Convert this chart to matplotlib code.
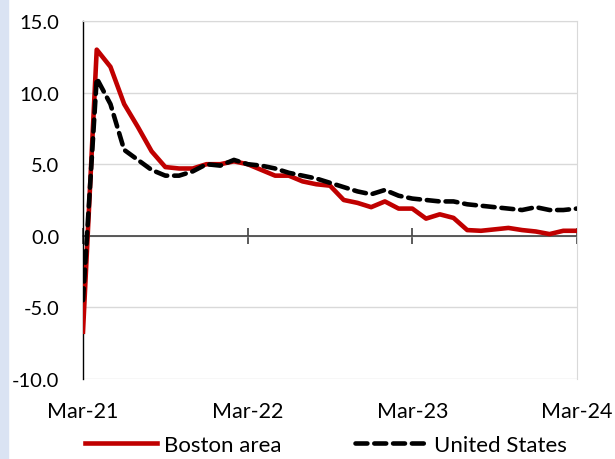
import matplotlib.pyplot as plt
import matplotlib.transforms as mtransforms
from matplotlib.patches import Rectangle
import numpy as np

plt.rcParams['font.family'] = ['Lato', 'DejaVu Sans']

# monthly values, Mar-21 .. Mar-24
boston = [-6.7, 13.0, 11.8, 9.2, 7.6, 5.9, 4.8, 4.7, 4.7, 5.0, 5.0, 5.2,
          5.0, 4.6, 4.2, 4.2, 3.8, 3.6, 3.5, 2.5, 2.3, 2.0, 2.4, 1.9,
          1.9, 1.2, 1.5, 1.25, 0.4, 0.35, 0.45, 0.55, 0.4, 0.3, 0.12, 0.35, 0.35]
us = [-4.5, 11.0, 9.2, 6.0, 5.3, 4.6, 4.2, 4.2, 4.5, 5.0, 4.9, 5.3,
      5.0, 4.9, 4.7, 4.4, 4.2, 4.0, 3.7, 3.4, 3.1, 2.9, 3.2, 2.8,
      2.6, 2.5, 2.4, 2.4, 2.2, 2.1, 2.0, 1.9, 1.8, 2.0, 1.8, 1.8, 1.9]
tick_pos = [0, 12, 24, 36]
tick_labels = ['Mar-21', 'Mar-22', 'Mar-23', 'Mar-24']

months = np.arange(len(boston))

fig = plt.figure(figsize=(6.15, 4.6), dpi=100)
fig.patches.append(Rectangle((0, 0), 8 / 615, 1, transform=fig.transFigure,
                             color='#dae3f3', zorder=0))
ax = fig.add_axes([83 / 615, 1 - 380 / 460, 494 / 615, 358 / 460])

ax.plot(months, boston, color='#c00000', lw=3.3, label='Boston area',
        solid_joinstyle='round', zorder=3)
ax.plot(months, us, color='black', lw=3.3, dashes=(2.6, 1.5),
        dash_capstyle='round', label='United States', zorder=4)

ax.set_xlim(0, 36)
ax.set_ylim(-10, 15)
ax.set_yticks([-10, -5, 0, 5, 10, 15])
ax.set_yticklabels([f'{v:.1f}' for v in [-10, -5, 0, 5, 10, 15]])
ax.tick_params(axis='y', length=0, pad=17, labelsize=14.5)
ax.grid(axis='y', color='#d9d9d9', lw=1)
ax.set_axisbelow(True)

ax.spines['left'].set_color('black')
ax.spines['left'].set_linewidth(1)
ax.spines['top'].set_color('#d9d9d9')
ax.spines['right'].set_color('#d9d9d9')
ax.spines['bottom'].set_position(('data', 0))
ax.spines['bottom'].set_color('#404040')
ax.spines['bottom'].set_linewidth(1.2)
ax.spines['bottom'].set_zorder(2)

ax.set_xticks(tick_pos)
ax.tick_params(axis='x', direction='inout', length=12, width=1.2,
               color='#404040', labelbottom=False)

trans = mtransforms.blended_transform_factory(ax.transData, ax.transAxes)
for p, lab in zip(tick_pos, tick_labels):
    ax.text(p, -0.088, lab, transform=trans, ha='center', va='center',
            fontsize=15.5)

fig.legend(loc='center', bbox_to_anchor=(0.53, 1 - 446 / 460), ncol=2,
           frameon=False, fontsize=16, handlelength=3.25, handletextpad=0.3,
           columnspacing=3.3)

fig.savefig('out.png', dpi=100)
